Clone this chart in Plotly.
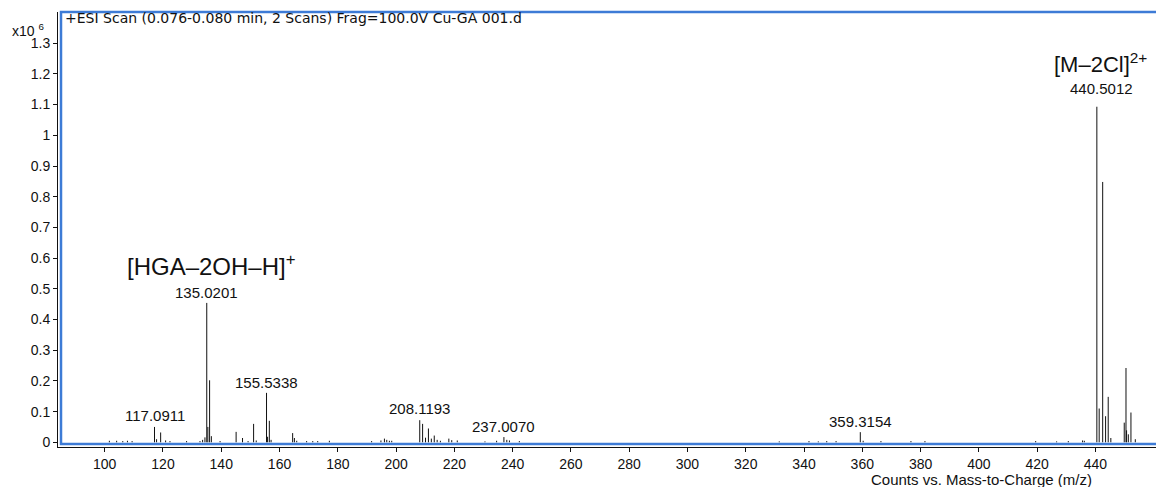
import plotly.graph_objects as go

# Centroided peaks: m/z and intensity (counts x10^6)
mz = [
    101.6, 104.1, 106.2, 107.8, 109.4,
    117.0911, 117.8, 119.2, 120.9, 122.4, 128.1, 132.7, 133.6, 134.4,
    135.0201, 135.4, 136.0, 136.6, 139.6,
    145.1, 147.3, 149.2, 151.1, 152.0, 155.5338, 155.9, 156.5, 157.1,
    164.5, 165.1, 165.9, 169.3, 171.4, 173.1, 177.1,
    191.6, 194.8, 196.0, 196.8, 197.7, 198.5,
    208.1193, 209.1, 210.1, 211.1, 212.1, 213.1, 214.1, 215.2, 218.1, 219.1, 221.0,
    230.5, 234.5, 237.0070, 238.0, 238.9, 242.3,
    331.5, 341.7, 344.9, 347.8, 351.0, 359.3154, 360.3, 366.4, 376.7, 381.5,
    419.5, 426.7, 430.7, 435.6, 436.2,
    440.5012, 441.3, 442.5, 443.5, 444.4, 445.3,
    449.9, 450.5, 450.7, 451.3, 452.2, 453.7,
]
intensity = [
    0.005, 0.005, 0.004, 0.005, 0.004,
    0.050, 0.010, 0.032, 0.006, 0.004, 0.004, 0.004, 0.008, 0.016,
    0.454, 0.050, 0.202, 0.020, 0.004,
    0.034, 0.014, 0.004, 0.060, 0.006, 0.161, 0.018, 0.070, 0.008,
    0.030, 0.014, 0.005, 0.004, 0.004, 0.004, 0.005,
    0.004, 0.006, 0.012, 0.008, 0.005, 0.005,
    0.072, 0.060, 0.015, 0.045, 0.012, 0.022, 0.008, 0.005, 0.012, 0.007, 0.006,
    0.003, 0.005, 0.017, 0.008, 0.006, 0.004,
    0.003, 0.004, 0.003, 0.004, 0.004, 0.033, 0.005, 0.004, 0.004, 0.004,
    0.004, 0.003, 0.004, 0.006, 0.005,
    1.093, 0.110, 0.848, 0.085, 0.148, 0.014,
    0.064, 0.242, 0.039, 0.026, 0.097, 0.010,
]

# Peaks annotated with their accurate mass (with small label offsets in px)
labelled_mz = [117.0911, 135.0201, 155.5338, 208.1193, 237.0070, 359.3154, 440.5012]
label_lift = [1, 0, 0, 1, 0, 0, 8]
label_nudge = [0, 0, 0, 0, 0, 0, 5]

# Ion assignments: text, m/z position, intensity position, font size
ion_text = ["[HGA\u20132OH\u2013H]<sup>+</sup>", "[M\u20132Cl]<sup>2+</sup>"]
ion_x = [136.5, 441.6]
ion_y = [0.578, 1.236]
ion_size = [24, 22]

x_ticks = list(range(100, 441, 20))
y_ticks = [round(0.1 * i, 1) for i in range(14)]
y_ticktext = ["0" if v == 0 else ("1" if v == 1 else f"{v:g}") for v in y_ticks]

FONT = "Liberation Sans, Arial, sans-serif"
WIDE_FONT = "DejaVu Sans, Verdana, sans-serif"
FRAME_BLUE = "#3d7bd6"

# Stick spectrum: one vertical segment per peak
xs, ys = [], []
for m, h in zip(mz, intensity):
    xs += [m, m, None]
    ys += [0, h, None]

fig = go.Figure()
fig.add_trace(go.Scatter(
    x=xs, y=ys, mode="lines",
    line=dict(color="#111111", width=1),
    hoverinfo="skip", showlegend=False,
))

annotations = []
lookup = dict(zip(mz, intensity))
for m, lift, nudge in zip(labelled_mz, label_lift, label_nudge):
    annotations.append(dict(
        x=m, y=lookup[m], xref="x", yref="y",
        text=f"{m:.4f}", showarrow=False,
        xanchor="center", yanchor="bottom", yshift=lift, xshift=nudge,
        font=dict(family=FONT, size=15, color="#111111"),
    ))
for t, x, y, s in zip(ion_text, ion_x, ion_y, ion_size):
    annotations.append(dict(
        x=x, y=y, xref="x", yref="y", text=t, showarrow=False,
        xanchor="center", yanchor="middle",
        font=dict(family=FONT, size=s, color="#111111"),
    ))

# Header, exponent and axis caption (placed in pixels, converted below)
annotations.append(dict(
    x=63, y=18, xref="paper", yref="paper",
    text="+ESI Scan (0.076-0.080 min, 2 Scans) Frag=100.0V Cu-GA 001.d",
    showarrow=False, xanchor="left", yanchor="middle",
    font=dict(family=WIDE_FONT, size=14, color="#111111"),
))
annotations.append(dict(
    x=10, y=30, xref="paper", yref="paper", text="x10 <sup>6</sup>",
    showarrow=False, xanchor="left", yanchor="middle",
    font=dict(family=FONT, size=14, color="#111111"),
))
annotations.append(dict(
    x=1094, y=479, xref="paper", yref="paper", text="Counts vs. Mass-to-Charge (m/z)",
    showarrow=False, xanchor="right", yanchor="middle",
    font=dict(family=FONT, size=15, color="#111111"),
))

W, H = 1156, 487
L, R, T, B = 58, 0, 12, 40
PW, PH = W - L - R, H - T - B

for a in annotations[-3:]:
    a["x"] = (a["x"] - L) / PW
    a["y"] = 1 - (a["y"] - T) / PH

fig.update_layout(
    width=W, height=H,
    margin=dict(l=L, r=R, t=T, b=B, pad=0),
    paper_bgcolor="white", plot_bgcolor="white",
    annotations=annotations,
    shapes=[dict(
        type="rect", xref="paper", yref="paper",
        x0=3 / PW, x1=1 + 6 / PW, y0=3 / PH, y1=1,
        line=dict(color=FRAME_BLUE, width=2.5), layer="above",
    )],
    xaxis=dict(
        range=[83.97, 460.8], tickvals=x_ticks,
        showline=True, linecolor="#111111", linewidth=1,
        ticks="outside", ticklen=4, tickcolor="#111111",
        showgrid=False, zeroline=False,
        tickfont=dict(family=FONT, size=14, color="#111111"),
    ),
    yaxis=dict(
        range=[-0.0153, 1.4016], tickvals=y_ticks, ticktext=y_ticktext,
        showline=True, linecolor="#111111", linewidth=1,
        ticks="outside", ticklen=4, tickcolor="#111111",
        showgrid=False, zeroline=False,
        tickfont=dict(family=FONT, size=14, color="#111111"),
    ),
)

fig.write_html("out.html")
